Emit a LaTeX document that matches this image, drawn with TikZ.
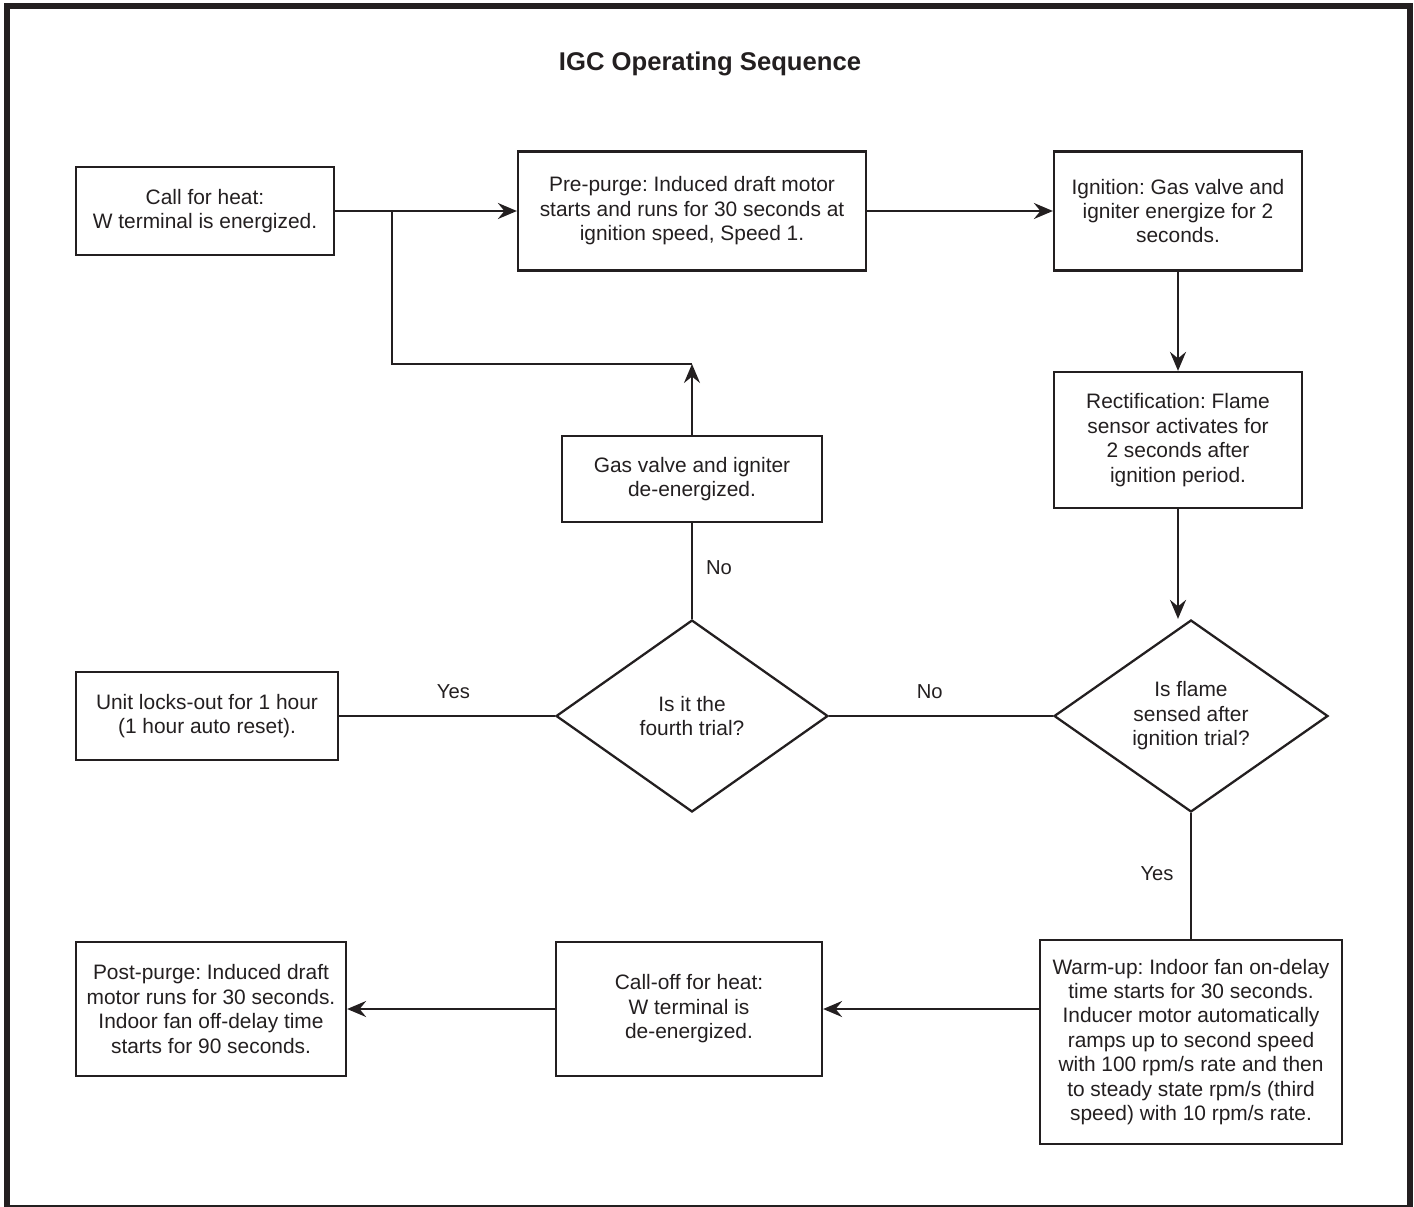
\documentclass[tikz,border=0pt]{standalone}
\usepackage{fontspec}
\setmainfont{Liberation Sans}
\frenchspacing
\usetikzlibrary{arrows.meta, shapes.geometric}
\definecolor{ink}{RGB}{35,31,32}

\begin{document}
\begin{tikzpicture}[x=0.02cm, y=-0.02cm,
    every node/.style={text=ink, font=\fontsize{11.9}{13.9}\selectfont},
    procbox/.style={draw=ink, line width=1.3pt, fill=white, align=center, inner sep=2pt},
    choice/.style={draw=ink, line width=1.3pt, diamond, aspect=1.43, align=center, inner sep=1pt},
    flow/.style={draw=ink, line width=1.3pt},
    arr/.style={flow, -{Stealth[length=3.8mm, width=3.2mm, inset=1.3mm]}},
    answer/.style={font=\fontsize{11.5}{13}\selectfont}]
  \useasboundingbox (0,0) rectangle (1414,1207);

  % outer frame
  \draw[ink, line width=3.6pt] (7,1207) -- (7,6) -- (1410,6) -- (1410,1207);
  \draw[ink, line width=0.6pt] (7,1206) -- (1410,1206);

  \node[font=\bfseries\fontsize{14.6}{17}\selectfont] (title) at (710,64) {IGC Operating Sequence};

  % top row
  \node[procbox, minimum width=5.16cm, minimum height=1.76cm] (callheat) at (205,211)
    {Call for heat:\\W terminal is energized.};
  \node[procbox, minimum width=6.96cm, minimum height=2.38cm] (prepurge) at (692,211)
    {Pre-purge: Induced draft motor\\starts and runs for 30 seconds at\\ignition speed, Speed 1.};
  \node[procbox, minimum width=4.96cm, minimum height=2.38cm] (ignition) at (1178,211)
    {Ignition: Gas valve and\\igniter energize for 2\\seconds.};

  % right column
  \node[procbox, minimum width=4.96cm, minimum height=2.72cm] (rectif) at (1178,440)
    {Rectification: Flame\\sensor activates for\\2 seconds after\\ignition period.};
  \node[choice, minimum width=5.48cm, minimum height=3.84cm] (flame) at (1191,716)
    {Is flame\\sensed after\\ignition trial?};
  \node[procbox, minimum width=6.04cm, minimum height=4.08cm] (warmup) at (1191,1042)
    {Warm-up: Indoor fan on-delay\\time starts for 30 seconds.\\Inducer motor automatically\\ramps up to second speed\\with 100 rpm/s rate and then\\to steady state rpm/s (third\\speed) with 10 rpm/s rate.};

  % middle column
  \node[procbox, minimum width=5.2cm, minimum height=1.72cm] (gasvalve) at (692,479)
    {Gas valve and igniter\\de-energized.};
  \node[choice, minimum width=5.44cm, minimum height=3.84cm] (fourth) at (692,716)
    {Is it the\\fourth trial?};
  \node[procbox, minimum width=5.32cm, minimum height=2.68cm] (calloff) at (689,1009)
    {Call-off for heat:\\W terminal is\\de-energized.};

  % left column
  \node[procbox, minimum width=5.24cm, minimum height=1.76cm] (lockout) at (207,716)
    {Unit locks-out for 1 hour\\(1 hour auto reset).};
  \node[procbox, minimum width=5.4cm, minimum height=2.68cm] (postpurge) at (211,1009)
    {Post-purge: Induced draft\\motor runs for 30 seconds.\\Indoor fan off-delay time\\starts for 90 seconds.};

  % connectors
  \coordinate (split) at (392,211);
  \coordinate (retry) at (692,364);
  \draw[arr] (callheat) -- (prepurge);
  \draw[arr] (prepurge) -- (ignition);
  \draw[arr] (ignition) -- (rectif);
  \draw[arr] (rectif.south) -- (flame.north -| rectif.south);
  \draw[flow] (flame) -- node[answer, above=6pt, pos=0.55] {No} (fourth);
  \draw[flow] (fourth) -- node[answer, above=6pt, pos=0.47] {Yes} (lockout);
  \draw[flow] (fourth) -- node[answer, right=4pt, pos=0.54] {No} (gasvalve);
  \draw[arr] (gasvalve) -- (retry);
  \draw[flow] (retry) -| (split);
  \draw[flow] (flame) -- node[answer, left=6pt, pos=0.48] {Yes} (warmup.north -| flame.south);
  \draw[arr] (warmup.west |- calloff) -- (calloff);
  \draw[arr] (calloff) -- (postpurge);
\end{tikzpicture}
\end{document}
